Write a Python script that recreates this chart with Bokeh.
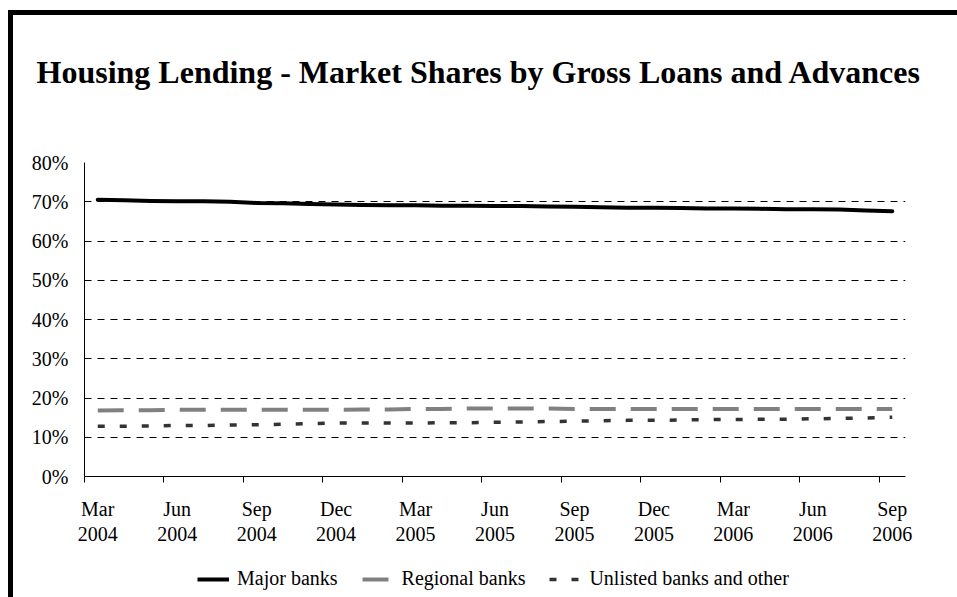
from bokeh.plotting import figure
from bokeh.layouts import column
from bokeh.models import (Range1d, FixedTicker, NumeralTickFormatter, Legend, LegendItem,
                          Title)
from bokeh.embed import file_html
from bokeh.resources import INLINE

# Monthly observations, Mar 2004 .. Sep 2006 (31 months)
months = ["Mar 2004", "Apr 2004", "May 2004", "Jun 2004", "Jul 2004", "Aug 2004",
          "Sep 2004", "Oct 2004", "Nov 2004", "Dec 2004", "Jan 2005", "Feb 2005",
          "Mar 2005", "Apr 2005", "May 2005", "Jun 2005", "Jul 2005", "Aug 2005",
          "Sep 2005", "Oct 2005", "Nov 2005", "Dec 2005", "Jan 2006", "Feb 2006",
          "Mar 2006", "Apr 2006", "May 2006", "Jun 2006", "Jul 2006", "Aug 2006",
          "Sep 2006"]

major_banks = [70.5, 70.4, 70.2, 70.1, 70.1, 70.0, 69.7, 69.6, 69.4, 69.3, 69.2, 69.1,
               69.1, 69.0, 69.0, 68.9, 68.9, 68.8, 68.7, 68.6, 68.5, 68.5, 68.4, 68.3,
               68.3, 68.2, 68.1, 68.1, 68.0, 67.8, 67.6]
regional_banks = [16.8, 16.9, 16.9, 17.0, 17.0, 17.0, 17.0, 17.0, 17.0, 17.0, 17.1, 17.1,
                  17.2, 17.2, 17.3, 17.3, 17.3, 17.3, 17.2, 17.2, 17.2, 17.2, 17.2, 17.2,
                  17.2, 17.2, 17.2, 17.2, 17.2, 17.2, 17.2]
unlisted_banks = [12.8, 12.8, 12.9, 13.0, 13.0, 13.1, 13.2, 13.3, 13.5, 13.6, 13.6, 13.6,
                  13.6, 13.7, 13.7, 13.8, 13.9, 14.0, 14.1, 14.2, 14.3, 14.3, 14.4, 14.5,
                  14.5, 14.6, 14.6, 14.7, 14.8, 14.9, 15.1]

tick_labels = ["Mar\n2004", "Jun\n2004", "Sep\n2004", "Dec\n2004", "Mar\n2005", "Jun\n2005",
               "Sep\n2005", "Dec\n2005", "Mar\n2006", "Jun\n2006", "Sep\n2006"]
y_ticks = [0, 0.1, 0.2, 0.3, 0.4, 0.5, 0.6, 0.7, 0.8]

title_text = "Housing Lending - Market Shares by Gross Loans and Advances"
series_names = ["Major banks", "Regional banks", "Unlisted banks and other"]
series_colors = ["black", "#808080", "#333333"]
series_dashes = ["solid", "26 15", "7 15"]
series_widths = [4, 4, 3.5]

FONT = "Liberation Serif"

x = list(range(len(months)))
series = [[v / 100 for v in s] for s in (major_banks, regional_banks, unlisted_banks)]

# ---------------- main chart ----------------
p = figure(title=None, frame_width=821, frame_height=314, output_backend="svg",
           toolbar_location=None,
           x_range=Range1d(-0.5, len(months) - 0.5), y_range=Range1d(0, 0.8),
           min_border_left=71, min_border_right=52, min_border_top=147,
           min_border_bottom=84)
p.outline_line_color = None
p.background_fill_color = "white"
p.border_fill_color = "white"

# spacer between the frame and the title, then the title itself
p.add_layout(Title(text=" ", text_font=FONT, text_font_size="50px"), "above")
p.add_layout(Title(text=title_text, align="left", offset=-48, text_font=FONT,
                   text_font_style="bold", text_font_size="32px", text_color="black"),
             "above")

# x axis: labels at every third month, tick marks between categories
label_pos = list(range(0, len(months), 3))
p.xaxis.ticker = FixedTicker(ticks=label_pos, minor_ticks=[t - 0.5 for t in label_pos])
p.xaxis.major_label_overrides = {t: lab for t, lab in zip(label_pos, tick_labels)}
p.xaxis.major_tick_out = 0
p.xaxis.major_tick_in = 0
p.xaxis.minor_tick_out = 6
p.xaxis.minor_tick_in = 0
p.xaxis.minor_tick_line_color = "black"
p.xaxis.axis_line_color = "black"
p.xaxis.major_label_standoff = 15
p.xaxis.major_label_text_font = FONT
p.xaxis.major_label_text_font_size = "20px"
p.xaxis.major_label_text_color = "black"
p.xaxis.major_label_text_line_height = 1.15

p.yaxis.ticker = FixedTicker(ticks=y_ticks)
p.yaxis.formatter = NumeralTickFormatter(format="0%")
p.yaxis.major_tick_out = 0
p.yaxis.major_tick_in = 0
p.yaxis.minor_tick_line_color = None
p.yaxis.axis_line_color = "black"
p.yaxis.major_label_standoff = 16
p.yaxis.major_label_text_font = FONT
p.yaxis.major_label_text_font_size = "20px"
p.yaxis.major_label_text_color = "black"

p.xgrid.visible = False
p.ygrid.ticker = FixedTicker(ticks=y_ticks)
p.ygrid.grid_line_color = "black"
p.ygrid.grid_line_dash = "7 6"
p.ygrid.grid_line_width = 1

for vals, c, d, w in zip(series, series_colors, series_dashes, series_widths):
    p.line(x, vals, line_color=c, line_width=w, line_dash=d,
           line_cap="round" if d == "solid" else "butt", line_join="round")

# ---------------- legend strip (below the chart) ----------------
# the same series are drawn here outside the visible range, only to feed the legend
lf = figure(width=944, height=37, output_backend="svg", toolbar_location=None,
            x_range=Range1d(0, 1), y_range=Range1d(5, 6),
            x_axis_type=None, y_axis_type=None,
            min_border_left=0, min_border_right=0, min_border_top=0, min_border_bottom=0)
lf.outline_line_color = None
lf.background_fill_color = "white"
lf.border_fill_color = "white"
legend_renderers = [lf.line(x, vals, line_color=c, line_width=w, line_dash=d,
                            line_cap="butt")
                    for vals, c, d, w in zip(series, series_colors, series_dashes,
                                             series_widths)]
legend = Legend(items=[LegendItem(label=n, renderers=[r])
                       for n, r in zip(series_names, legend_renderers)],
                orientation="horizontal", location=(113, 7),
                glyph_width=32, glyph_height=16, label_height=16, label_width=10,
                label_standoff=8, spacing=24, padding=0, margin=0,
                border_line_color=None, background_fill_alpha=0,
                label_text_font=FONT, label_text_font_size="20px",
                label_text_color="black")
lf.add_layout(legend)

layout = column(p, lf, spacing=0)
# top and left edges of the (cropped) chart frame
layout.styles = {"margin-left": "8px", "margin-top": "10px",
                 "border-left": "5px solid black", "border-top": "5px solid black"}

open("out.html", "w").write(file_html(layout, INLINE))
